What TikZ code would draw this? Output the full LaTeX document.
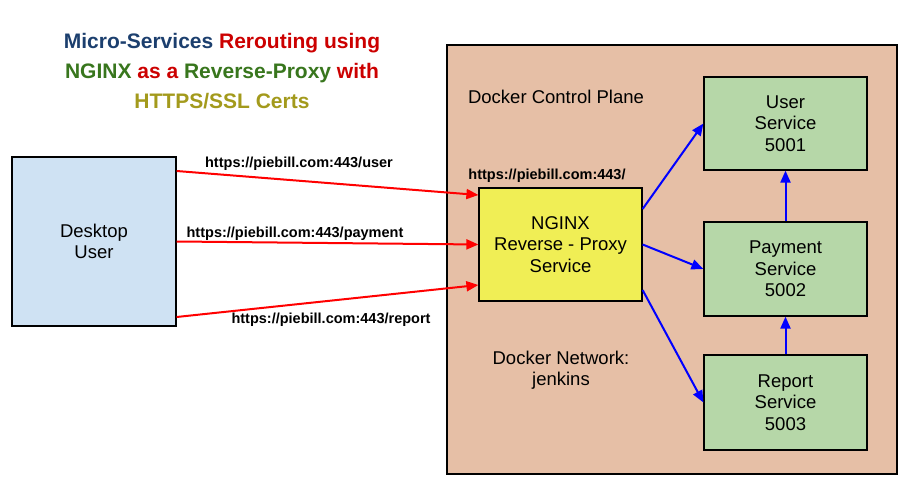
\documentclass[tikz,border=0pt]{standalone}
\usepackage{fontspec}
\setmainfont{Liberation Sans}
\usetikzlibrary{arrows.meta}
\definecolor{dockerbg}{HTML}{E6BFA6}
\definecolor{userbg}{HTML}{CFE2F3}
\definecolor{nginxbg}{HTML}{F0EE55}
\definecolor{servicebg}{HTML}{B6D7A8}
\definecolor{titleblue}{HTML}{1C3F6E}
\definecolor{titlered}{HTML}{CC0000}
\definecolor{titlegreen}{HTML}{38761D}
\definecolor{titleolive}{HTML}{A39A1C}
\begin{document}
\begin{tikzpicture}[x=1pt,y=-1pt,
    box/.style={draw,line width=1.2pt,align=center,inner sep=0pt,
      font=\fontsize{18.5}{21.5}\selectfont},
    url/.style={font=\bfseries\fontsize{14.5}{17}\selectfont,inner sep=0pt},
    plain/.style={font=\fontsize{18.5}{21.5}\selectfont,align=center,inner sep=0pt},
    request/.style={red,line width=2pt,-{Triangle[length=12pt,width=10pt]}},
    route/.style={blue,line width=2pt,-{Triangle[length=12pt,width=10pt]}}]
    \useasboundingbox (0,0) rectangle (908,489);
    \draw[fill=dockerbg,line width=1.2pt] (447,45) rectangle (897,474);
    \node (title) at (222,71) [font=\bfseries\fontsize{21}{30}\selectfont,align=center]
      {\textcolor{titleblue}{Micro-Services} \textcolor{titlered}{Rerouting using}\\
       \textcolor{titlegreen}{NGINX} \textcolor{titlered}{as a} \textcolor{titlegreen}{Reverse-Proxy} \textcolor{titlered}{with}\\
       \textcolor{titleolive}{HTTPS/SSL Certs}};
    \node (desktop) at (94,241.5) [box,fill=userbg,minimum width=164pt,minimum height=169pt] {Desktop\\User};
    \node (nginx) at (560.5,244.5) [box,fill=nginxbg,minimum width=163pt,minimum height=113pt] {NGINX\\Reverse - Proxy\\Service};
    \node (user) at (785.5,123.5) [box,fill=servicebg,minimum width=163pt,minimum height=93pt] {User\\Service\\5001};
    \node (payment) at (785.5,269) [box,fill=servicebg,minimum width=163pt,minimum height=94pt] {Payment\\Service\\5002};
    \node (report) at (785.5,402.5) [box,fill=servicebg,minimum width=163pt,minimum height=95pt] {Report\\Service\\5003};
    \node (plane) at (556,97) [plain] {Docker Control Plane};
    \node (network) at (561,370) [plain] {Docker Network:\\jenkins};
    \node (userurl) at (299,164) [url] {https://piebill.com:443/user};
    \node (paymenturl) at (295,234) [url] {https://piebill.com:443/payment};
    \node (reporturl) at (331,320) [url] {https://piebill.com:443/report};
    \node (baseurl) at (547,176) [url] {https://piebill.com:443/};
    \draw[request] ([yshift=70.5pt]desktop.east) -- ([yshift=49.5pt]nginx.west);
    \draw[request] (desktop.east) -- (nginx.west);
    \draw[request] ([yshift=-75.5pt]desktop.east) -- ([yshift=-40.5pt]nginx.west);
    \draw[route] ([yshift=35.5pt]nginx.east) -- (user.west);
    \draw[route] (nginx.east) -- (payment.west);
    \draw[route] ([yshift=-45.5pt]nginx.east) -- (report.west);
    \draw[route] (payment.north) -- (user.south);
    \draw[route] (report.north) -- (payment.south);
\end{tikzpicture}
\end{document}
